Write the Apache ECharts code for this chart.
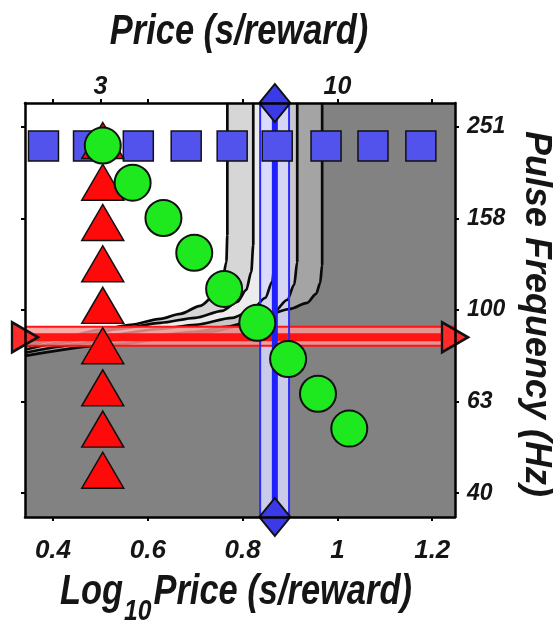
<!DOCTYPE html>
<html><head><meta charset="utf-8">
<script src="https://cdn.jsdelivr.net/npm/echarts@6/dist/echarts.min.js"></script>
<style>html,body{margin:0;padding:0;background:#fff}#c{width:559px;height:626px}</style>
</head><body><div id="c"></div>
<script>
// ---------- axes (log10 units) ----------
const xRange = [0.341, 1.248];
const yRange = [1.548, 2.452];
const xTickValues = [0.4, 0.6, 0.8, 1.0, 1.2];
const xTickLabels = ['0.4', '0.6', '0.8', '1', '1.2'];
const topTickValues = [0.4, 0.5, 0.6, 0.8, 1.0, 1.2];
const topLabelValues = [0.5, 1.0];
const topLabels = ['3', '10'];
const yTickValues = [1.6, 1.8, 2.0, 2.2, 2.4];
const yTickLabels = ['40', '63', '100', '158', '251'];

// ---------- markers ----------
const squareX = [0.38, 0.475, 0.58, 0.681, 0.778, 0.873, 0.976, 1.075, 1.176];
const squareY = [2.358, 2.358, 2.358, 2.358, 2.358, 2.358, 2.358, 2.358, 2.358];
const triangleX = [0.505, 0.505, 0.505, 0.505, 0.505, 0.505, 0.505, 0.505, 0.505];
const triangleY = [2.370, 2.279, 2.191, 2.101, 2.010, 1.922, 1.830, 1.740, 1.650];
const circleX = [0.505, 0.568, 0.633, 0.698, 0.761, 0.831, 0.896, 0.959, 1.025];
const circleY = [2.359, 2.278, 2.201, 2.125, 2.046, 1.972, 1.893, 1.817, 1.741];

// ---------- price / frequency bands ----------
const priceCenter = 0.868;
const priceBand = [0.837, 0.898];
const freqCenter = 1.9405;
const freqBand = [1.9218, 1.9633];
const diamondX = [0.868, 0.868];
const diamondY = [2.452, 1.548];
const arrowX = [0.341, 1.248];
const arrowY = [1.9405, 1.9405];

// ---------- contour lines ----------
const contour1 = [[0.341,1.9262],[0.4162,1.9393],[0.5004,1.9568],[0.5636,1.9677],[0.6267,1.9808],[0.6688,1.9917],[0.7109,2.0092],[0.7404,2.0310],[0.7573,2.0616],[0.7657,2.1052],[0.7678,2.1642],[0.7678,2.4524]];
const contour2 = [[0.341,1.9197],[0.4583,1.9437],[0.5425,1.9590],[0.6267,1.9721],[0.7004,1.9830],[0.7573,1.9983],[0.7888,2.0179],[0.8078,2.0441],[0.8183,2.0834],[0.8225,2.1424],[0.8225,2.4524]];
const contour3 = [[0.341,1.9131],[0.4162,1.9284],[0.5215,1.9459],[0.6267,1.9590],[0.7004,1.9677],[0.7783,1.9830],[0.8204,2.0004],[0.8478,2.0266],[0.8625,2.0616],[0.8688,2.1205],[0.8688,2.4524]];
const contour4 = [[0.341,1.9066],[0.5004,1.9306],[0.6057,1.9437],[0.7004,1.9524],[0.7636,1.9633],[0.8246,1.9764],[0.8667,1.9961],[0.8941,2.0223],[0.9088,2.0550],[0.9152,2.1052],[0.9152,2.4524]];
const contour5 = [[0.341,1.9000],[0.5425,1.9262],[0.6478,1.9393],[0.7320,1.9524],[0.8057,1.9677],[0.8583,1.9917],[0.9004,2.0026],[0.9362,2.0157],[0.9552,2.0354],[0.9636,2.0594],[0.9678,2.0987],[0.9678,2.4524]];
const contourFills = ['#a4a4a4', '#c8c8c8', '#ececec', '#d6d6d6', '#ffffff'];

function zip(a, b) { return a.map((v, i) => [v, b[i]]); }
function hasFont(name) {
  const c = document.createElement('canvas').getContext('2d');
  const t = 'Price (s/reward) 0123456789';
  c.font = 'italic bold 40px monospace';
  const a = c.measureText(t).width;
  c.font = 'italic bold 40px "' + name + '", monospace';
  return Math.abs(c.measureText(t).width - a) > 0.5;
}
const narrowOK = hasFont('Liberation Sans Narrow');
const NARROW = narrowOK ? '"Liberation Sans Narrow"' : '"Liberation Sans"';
const SX = narrowOK ? 1 : 0.82;
const WIDE = '"Liberation Sans", Arial, sans-serif';
function measure(font, text) {
  const c = document.createElement('canvas').getContext('2d');
  c.font = font; return c.measureText(text).width;
}
function nearestLabel(vals, labels) {
  return function (v) {
    let bi = 0, bd = 1e9;
    vals.forEach((x, i) => { const d = Math.abs(x - v); if (d < bd) { bd = d; bi = i; } });
    return bd < 1e-6 ? labels[bi] : '';
  };
}
// rectangle band through the axes' scales: data item = [x0, x1, yTop, yBottom]
function bandSeries(item, style, z) {
  return {
    type: 'custom', data: [item], z: z, silent: true, clip: true,
    encode: { x: [0, 1], y: [2, 3] },
    renderItem: function (params, api) {
      const p0 = api.coord([api.value(0), api.value(2)]);
      const p1 = api.coord([api.value(1), api.value(3)]);
      return { type: 'rect', shape: { x: p0[0], y: p0[1], width: p1[0] - p0[0], height: p1[1] - p0[1] }, style: style };
    }
  };
}

const chart = echarts.init(document.getElementById('c'), null, { renderer: 'canvas' });
const tickStyle = { show: true, inside: false, length: 4, lineStyle: { color: '#000', width: 2 } };
const axisLineStyle = { show: true, onZero: false, lineStyle: { color: '#000', width: 2.5 } };

const contours = [contour5, contour4, contour3, contour2, contour1];
// shaded regions (filled up to the top of the plot)
const contourFillSeries = contours.map((d, i) => ({
  type: 'line', data: d, showSymbol: false, symbol: 'none', smooth: 0.3, smoothMonotone: 'x',
  lineStyle: { width: 0, opacity: 0 },
  areaStyle: { color: contourFills[i], opacity: 1, origin: 'end' },
  silent: true, z: 1
}));
// black contour lines
const contourLineSeries = contours.map((d) => ({
  type: 'line', data: d, showSymbol: false, symbol: 'none', smooth: 0.3, smoothMonotone: 'x',
  lineStyle: { color: '#0a0a0a', width: 2.7 }, silent: true, z: 3
}));

// bottom title composition
const titleFont = 'italic bold 42px ' + NARROW;
const subFont = 'italic bold 30px ' + NARROW;
const wLog = measure(titleFont, 'Log') * SX;
const wSub = measure(subFont, '10') * SX;
const xLog = 60;

chart.setOption({
  animation: false,
  backgroundColor: '#ffffff',
  grid: { left: 25, right: 104, top: 103, bottom: 109, show: true, backgroundColor: '#828282', borderWidth: 0 },
  xAxis: [
    { type: 'value', position: 'bottom', min: xRange[0], max: xRange[1], z: 10,
      axisLine: axisLineStyle, splitLine: { show: false },
      axisTick: Object.assign({ customValues: xTickValues }, tickStyle),
      axisLabel: { customValues: xTickValues, formatter: nearestLabel(xTickValues, xTickLabels), margin: 21,
        fontFamily: WIDE, fontStyle: 'italic', fontWeight: 'bold', fontSize: 26, color: '#151515' } },
    { type: 'value', position: 'top', min: xRange[0], max: xRange[1], z: 10,
      axisLine: axisLineStyle, splitLine: { show: false },
      axisTick: Object.assign({ customValues: topTickValues }, tickStyle),
      axisLabel: { customValues: topLabelValues, formatter: nearestLabel(topLabelValues, topLabels), margin: 3,
        fontFamily: NARROW, fontStyle: 'italic', fontWeight: 'bold', fontSize: narrowOK ? 30 : 25, color: '#151515' } }
  ],
  yAxis: [
    { type: 'value', position: 'left', min: yRange[0], max: yRange[1], z: 10,
      axisLine: axisLineStyle, splitLine: { show: false },
      axisTick: Object.assign({ customValues: yTickValues }, tickStyle),
      axisLabel: { show: false } },
    { type: 'value', position: 'right', min: yRange[0], max: yRange[1], z: 10,
      axisLine: axisLineStyle, splitLine: { show: false },
      axisTick: Object.assign({ customValues: yTickValues }, tickStyle),
      axisLabel: { customValues: yTickValues, formatter: nearestLabel(yTickValues, yTickLabels), margin: 12,
        fontFamily: NARROW, fontStyle: 'italic', fontWeight: 'bold', fontSize: narrowOK ? 28 : 23, color: '#151515' } }
  ],
  series: contourFillSeries.concat([
    // price band fill (lavender), under the contour lines
    bandSeries([priceBand[0], priceBand[1], yRange[1], yRange[0]], { fill: 'rgba(214,216,252,0.85)' }, 2)
  ], contourLineSeries, [
    // frequency band fill + outline
    bandSeries([xRange[0], xRange[1], freqBand[1], freqBand[0]], { fill: 'rgba(255,150,150,0.82)', stroke: '#ff1414', lineWidth: 2 }, 4),
    { type: 'line', name: 'freqCenter', data: [[xRange[0], freqCenter], [xRange[1], freqCenter]],
      showSymbol: false, symbol: 'none', lineStyle: { color: '#ff1414', width: 8 }, silent: true, z: 4 },
    // price band outline + center
    bandSeries([priceBand[0], priceBand[1], yRange[1], yRange[0]], { fill: 'none', stroke: '#2a2aff', lineWidth: 2 }, 5),
    { type: 'line', name: 'priceCenter', data: [[priceCenter, yRange[0]], [priceCenter, yRange[1]]],
      showSymbol: false, symbol: 'none', lineStyle: { color: '#2020ff', width: 6 }, silent: true, z: 5 },
    { type: 'scatter', data: zip(squareX, squareY), symbol: 'rect', symbolSize: 30, z: 6,
      itemStyle: { color: '#5252ec', borderColor: '#111', borderWidth: 1.5, opacity: 1 }, emphasis: { disabled: true } },
    { type: 'scatter', data: zip(triangleX, triangleY), symbol: 'triangle', symbolSize: [42, 36], z: 7,
      itemStyle: { color: '#ff0a0a', borderColor: '#111', borderWidth: 1.5, opacity: 1 }, emphasis: { disabled: true } },
    { type: 'scatter', data: zip(circleX, circleY), symbol: 'circle', symbolSize: 36, z: 8,
      itemStyle: { color: '#1ee81e', borderColor: '#111', borderWidth: 2, opacity: 1 }, emphasis: { disabled: true } },
    { type: 'scatter', data: zip(diamondX, diamondY), symbol: 'diamond', symbolSize: [31, 38], z: 9, clip: false,
      itemStyle: { color: '#3a3ae6', borderColor: '#111', borderWidth: 2, opacity: 1 }, emphasis: { disabled: true } },
    { type: 'scatter', data: zip(arrowX, arrowY), symbol: 'triangle', symbolRotate: -90, symbolSize: [30, 26], z: 9, clip: false,
      itemStyle: { color: '#ff2a2a', borderColor: '#111', borderWidth: 2.5, opacity: 1 }, emphasis: { disabled: true } }
  ]),
  graphic: [
    { type: 'text', x: 239, y: 32, scaleX: SX, silent: true,
      style: { text: 'Price (s/reward)', font: titleFont, align: 'center', verticalAlign: 'middle', fill: '#151515' } },
    { type: 'text', x: xLog, y: 592, scaleX: SX, silent: true,
      style: { text: 'Log', font: titleFont, align: 'left', verticalAlign: 'middle', fill: '#151515' } },
    { type: 'text', x: xLog + wLog + 1, y: 612, scaleX: SX, silent: true,
      style: { text: '10', font: subFont, align: 'left', verticalAlign: 'middle', fill: '#151515' } },
    { type: 'text', x: xLog + wLog + wSub + 3, y: 592, scaleX: SX, silent: true,
      style: { text: 'Price (s/reward)', font: titleFont, align: 'left', verticalAlign: 'middle', fill: '#151515' } },
    { type: 'text', x: 536, y: 314, rotation: -Math.PI / 2, silent: true,
      style: { text: 'Pulse Frequency (Hz)', font: 'italic bold 36px ' + WIDE, align: 'center', verticalAlign: 'middle', fill: '#151515' } }
  ]
});
</script></body></html>
